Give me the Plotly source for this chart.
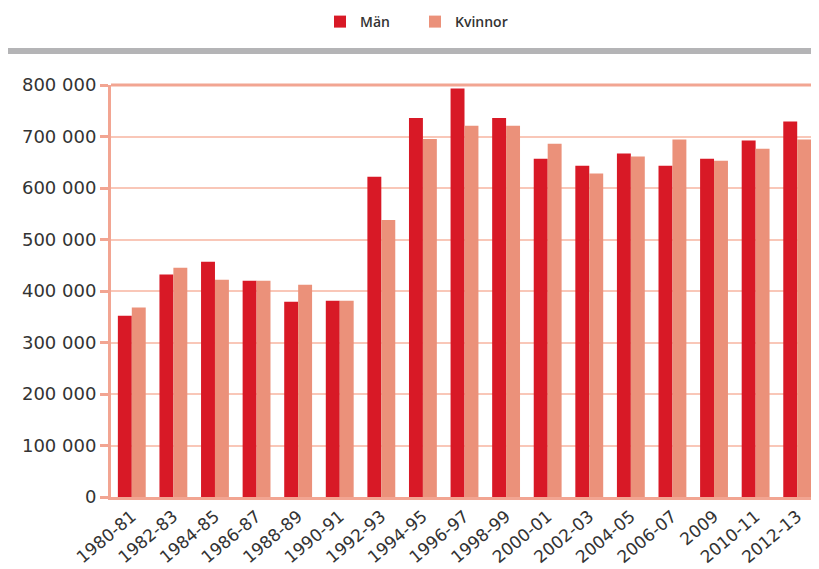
import plotly.graph_objects as go

categories = ["1980-81", "1982-83", "1984-85", "1986-87", "1988-89", "1990-91",
              "1992-93", "1994-95", "1996-97", "1998-99", "2000-01", "2002-03",
              "2004-05", "2006-07", "2009", "2010-11", "2012-13"]
man = [352000, 432000, 457000, 420000, 379000, 381000, 622000, 736000, 793000,
       736000, 657000, 643000, 667000, 643000, 657000, 692000, 729000]
kvinnor = [368000, 445000, 422000, 420000, 412000, 381000, 538000, 695000, 721000,
           721000, 686000, 628000, 661000, 694000, 653000, 676000, 694000]
ytick_vals = [0, 100000, 200000, 300000, 400000, 500000, 600000, 700000, 800000]
ytick_text = ["0", "100 000", "200 000", "300 000", "400 000", "500 000",
              "600 000", "700 000", "800 000"]

RED = "#d81926"
SALMON = "#eb917a"
GRID = "#f9c7b8"
AXIS = "#f2a592"
TXT = "#333333"

# page renders at an 8px offset (body margin)
W, H = 811, 561
L, T, R, B = 103, 77, 1, 72
PW = W - L - R
PH = H - T - B

fig = go.Figure()
fig.add_trace(go.Bar(name="Män", x=categories, y=man, marker_color=RED,
                     marker_line_width=0))
fig.add_trace(go.Bar(name="Kvinnor", x=categories, y=kvinnor, marker_color=SALMON,
                     marker_line_width=0))

fig.update_layout(
    width=W, height=H,
    margin=dict(l=L, r=R, t=T, b=B, autoexpand=False),
    paper_bgcolor="white", plot_bgcolor="white",
    barmode="group", bargap=0.33, bargroupgap=0,
    font=dict(family="DejaVu Sans", color=TXT),
    showlegend=True,
    legend=dict(orientation="h", xref="container", yref="paper",
                x=(320 - 8) / W, xanchor="left",
                y=(PH + T + 2) / PH, yanchor="top",
                font=dict(size=14, color=TXT, family="Open Sans", weight=600),
                itemwidth=30, traceorder="normal", entrywidth=50,
                bgcolor="rgba(0,0,0,0)"),
    xaxis=dict(type="category", showgrid=False, showline=True, linecolor=AXIS,
               linewidth=3, ticks="", tickangle=-40, automargin=False,
               tickfont=dict(size=17, color=TXT)),
    yaxis=dict(range=[0, 800000], tickvals=ytick_vals, ticktext=ytick_text,
               showgrid=True, gridcolor=GRID, gridwidth=2, automargin=False,
               showline=True, linecolor=AXIS, linewidth=3,
               ticks="outside", ticklen=8, tickwidth=3, tickcolor=AXIS,
               tickfont=dict(size=18, color=TXT), zeroline=False),
    shapes=[
        dict(type="rect", xref="paper", yref="paper", x0=-L / PW, x1=1.0,
             y0=(PH + T - (54 - 8)) / PH, y1=(PH + T - (48 - 8)) / PH,
             fillcolor="#b4b4b6", line_width=0, layer="above"),
        dict(type="line", xref="paper", yref="paper", x0=0, x1=1, y0=1, y1=1,
             line=dict(color=AXIS, width=3)),
        dict(type="line", xref="paper", yref="paper", x0=1, x1=1, y0=0, y1=1,
             line=dict(color=AXIS, width=2)),
    ],
)

fig.write_html("out.html")
